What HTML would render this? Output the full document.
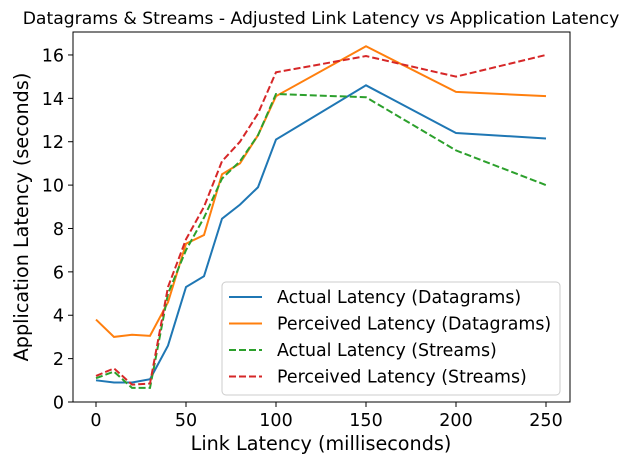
<!DOCTYPE html>
<html><head><meta charset="utf-8"><style>body{margin:0;background:#fff}svg{display:block;font-family:"DejaVu Sans","Liberation Sans",sans-serif}</style></head>
<body>
<svg id="c" width="640" height="461"></svg>
<script>
const xs=[0,10,20,30,40,50,60,70,80,90,100,150,200,250];
const actualDatagrams=[1.0,0.9,0.9,1.05,2.6,5.3,5.8,8.45,9.1,9.9,12.1,14.6,12.4,12.15];
const perceivedDatagrams=[3.8,3.0,3.1,3.05,4.6,7.3,7.7,10.5,11.0,12.3,14.1,16.4,14.3,14.1];
const actualStreams=[1.1,1.4,0.65,0.65,5.0,7.0,8.5,10.3,11.1,12.3,14.2,14.05,11.6,10.0];
const perceivedStreams=[1.2,1.55,0.8,0.85,5.3,7.5,9.0,11.1,12.0,13.3,15.2,15.95,15.0,16.0];
const xTicks=[0,50,100,150,200,250];
const yTicks=[0,2,4,6,8,10,12,14,16];
const L=73,R=570,T=32,B=402;
const X=v=>96+v*1.8, Y=v=>402-v*21.69;
const ns="http://www.w3.org/2000/svg", s=document.getElementById('c');
function el(t,a,txt){const e=document.createElementNS(ns,t);for(const k in a)e.setAttribute(k,a[k]);if(txt!==undefined)e.textContent=txt;s.appendChild(e);return e;}
let e;
e=el('text',{x:321,y:24,'text-anchor':'middle','font-size':17.2},'Datagrams & Streams - Adjusted Link Latency vs Application Latency');


xTicks.forEach(t=>{
 e=el('line',{x1:X(t),x2:X(t),y1:B,y2:B+5,stroke:'#000'});
 
 
 e=el('text',{x:X(t),y:B+24,'text-anchor':'middle','font-size':17.5},t);
 
 
});
yTicks.forEach(t=>{
 e=el('line',{x1:L-5,x2:L,y1:Y(t),y2:Y(t),stroke:'#000'});
 
 
 e=el('text',{x:L-9,y:Y(t)+6.5,'text-anchor':'end','font-size':17.5},t);
 
 
});
e=el('text',{x:321,y:450,'text-anchor':'middle','font-size':19.2},'Link Latency (milliseconds)');


e=el('text',{x:28,y:217,'text-anchor':'middle','font-size':19.2,transform:'rotate(-90 28 217)'},'Application Latency (seconds)');


const series=[[actualDatagrams,'#1f77b4',null,'Actual Latency (Datagrams)'],[perceivedDatagrams,'#ff7f0e',null,'Perceived Latency (Datagrams)'],[actualStreams,'#2ca02c','7,3','Actual Latency (Streams)'],[perceivedStreams,'#d62728','7,3','Perceived Latency (Streams)']];
series.forEach((sr,i)=>{
 const p=el('polyline',{points:xs.map((x,j)=>X(x)+','+Y(sr[0][j])).join(' '),fill:'none',stroke:sr[1],'stroke-width':2,'stroke-dasharray':sr[2]||'none'});
 
 
});
e=el('rect',{x:L,y:T,width:R-L,height:B-T,fill:'none',stroke:'#000','stroke-width':1});


e=el('rect',{x:222,y:282,width:338,height:113,rx:4,fill:'#fff','fill-opacity':0.8,stroke:'#ccc'});


series.forEach((sr,i)=>{
 const y=297+i*26.5;
 e=el('line',{x1:229,x2:262,y1:y,y2:y,stroke:sr[1],'stroke-width':2,'stroke-dasharray':sr[2]||'none'});
 
 
 e=el('text',{x:277,y:y+6,'font-size':17.4},sr[3]);
 
 
});
</script>
</body></html>
